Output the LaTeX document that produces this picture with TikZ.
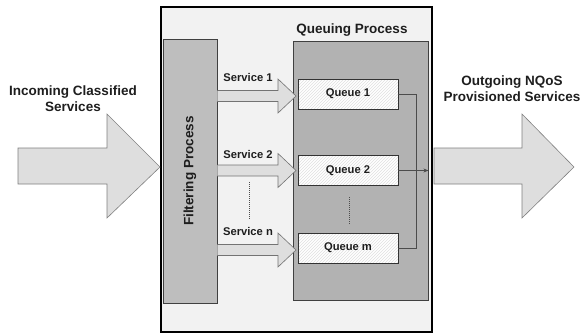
\documentclass[tikz,border=0pt]{standalone}
\usepackage{fontspec}
\setmainfont{Liberation Sans}
\usetikzlibrary{shapes, arrows.meta, positioning, patterns, calc}

\definecolor{panelgray}{RGB}{242,242,242}
\definecolor{boxgray}{RGB}{178,178,178}
\definecolor{filtgray}{RGB}{190,190,190}
\definecolor{arrowgray}{RGB}{222,222,222}
\definecolor{textdark}{RGB}{30,30,30}

\begin{document}
\begin{tikzpicture}[x=1pt, y=-1pt,
			% Define styles
			bigtext/.style={font=\fontsize{13.5}{16}\selectfont\bfseries, text=textdark, align=center, inner sep=0pt},
			smalltext/.style={font=\fontsize{11.2}{13}\selectfont\bfseries, text=textdark, inner sep=0pt},
			panel/.style={rectangle, draw=black, line width=1.3pt, fill=panelgray, minimum width=271pt, minimum height=325pt},
			procbox/.style={rectangle, draw=black!75, line width=0.8pt, fill=boxgray, inner sep=0pt},
			queuebox/.style={rectangle, draw=black!80, line width=0.8pt, preaction={fill=white}, pattern=north east lines, pattern color=black!12, minimum width=100pt, minimum height=30pt, inner sep=0pt, font=\fontsize{11.2}{13}\selectfont\bfseries, text=textdark},
			bigarrow/.style={draw=black!50, line width=0.6pt, fill=arrowgray},
			servarrow/.style={draw=black!55, line width=0.6pt, fill=arrowgray},
			wire/.style={draw=black!70, line width=0.8pt},
			dots/.style={draw=black!70, line width=0.8pt, dash pattern=on 1pt off 1pt}
			]
			\useasboundingbox (0,0) rectangle (581,333);
			
			% Main panel
			\node[panel] (main) at (296.5,169.5) {};
			
			% Incoming and outgoing services
			\draw[bigarrow] (18,148) -- (107,148) -- (107,114) -- (160,167) -- (107,218) -- (107,184) -- (18,184) -- cycle;
			\draw[bigarrow] (434,148) -- (522,148) -- (522,114) -- (574,167) -- (522,218) -- (522,184) -- (434,184) -- cycle;
			\node[bigtext] (intext) at (73,99) {Incoming Classified\\Services};
			\node[bigtext] (outtext) at (512,89) {Outgoing NQoS\\Provisioned Services};
			
			% Filtering and queuing blocks
			\node[procbox, fill=filtgray, minimum width=54pt, minimum height=264pt] (filter) at (190,171) {};
			\node[bigtext, rotate=90] (filtertext) at (filter) {Filtering Process};
			\node[procbox, minimum width=135pt, minimum height=259pt] (queuing) at (360.5,170.5) {};
			\node[bigtext] (queuingtext) at (352,30) {Queuing Process};
			
			% Queues
			\node[queuebox] (q1) at (348,94) {Queue 1};
			\node[queuebox] (q2) at (348,170.5) {Queue 2};
			\node[queuebox] (qm) at (348,248) {Queue m};
			\draw[dots] (349,197) -- (349,224);
			
			% Service arrows
			\foreach \yc in {96,170.5,250}{
				\draw[servarrow] (filter.east |- 0,\yc-5.5) -- (278,\yc-5.5) -- (278,\yc-17) -- (296,\yc) -- (278,\yc+17) -- (278,\yc+5.5) -- (filter.east |- 0,\yc+5.5);
			}
			\node[smalltext] (s1) at (248,77) {Service 1};
			\node[smalltext] (s2) at (248,154) {Service 2};
			\node[smalltext] (sn) at (248,231) {Service n};
			\draw[dots] (249,182) -- (249,220);
			
			% Output connections
			\coordinate (bus) at (416,0);
			\draw[wire] (q1.east) -- (q1.east -| bus) -- (qm.east -| bus) -- (qm.east);
			\draw[wire, -{Stealth[length=5pt, width=4pt]}] (q2.east) -- (q2.east -| queuing.east);
			
		\end{tikzpicture}
\end{document}
